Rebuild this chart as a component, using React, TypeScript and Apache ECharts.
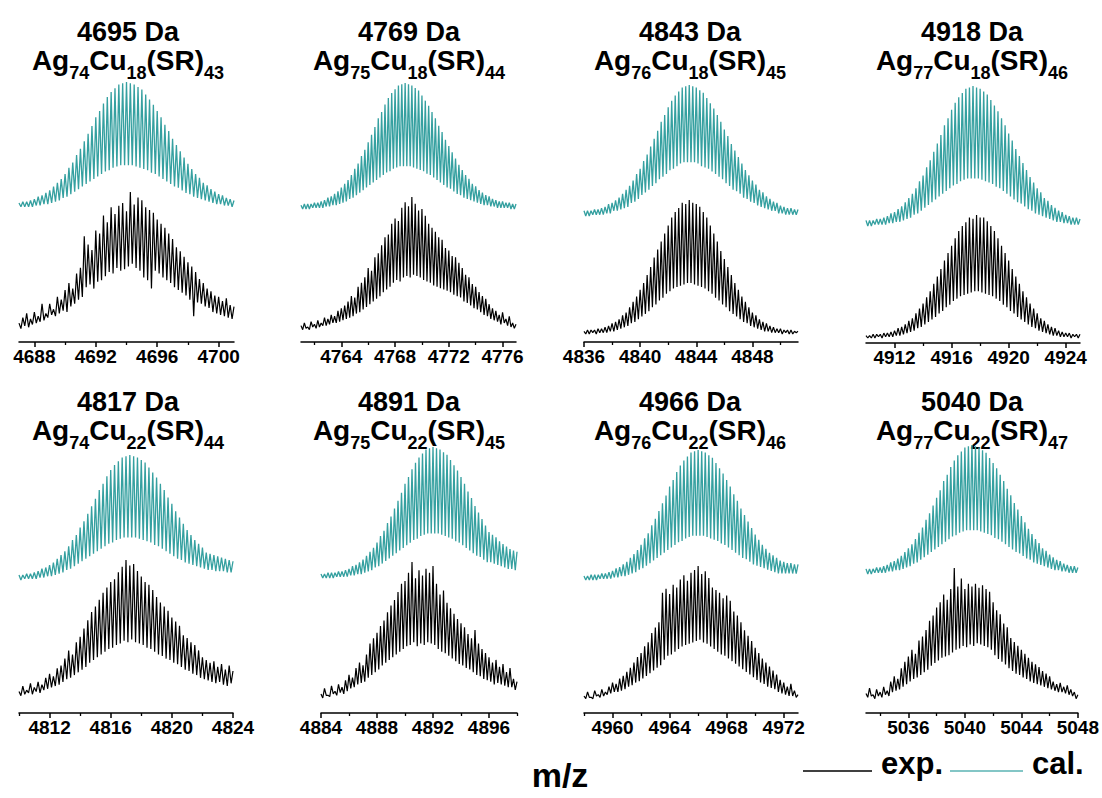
import React, { useEffect, useRef } from 'react';
import * as echarts from 'echarts';

// ---------- data ----------
const MASS_LABELS = ['4695 Da', '4769 Da', '4843 Da', '4918 Da', '4817 Da', '4891 Da', '4966 Da', '5040 Da'];
const AG_COUNT = [74, 75, 76, 77, 74, 75, 76, 77];
const CU_COUNT = [18, 18, 18, 18, 22, 22, 22, 22];
const SR_COUNT = [43, 44, 45, 46, 44, 45, 46, 47];

const X_MIN = [4687, 4761, 4836, 4910, 4810, 4884, 4958, 5033];
const X_MAX = [4701, 4777, 4851.25, 4925, 4824, 4898, 4973, 5048];
const MAJOR_TICKS = [
  [4688, 4692, 4696, 4700],
  [4764, 4768, 4772, 4776],
  [4836, 4840, 4844, 4848],
  [4912, 4916, 4920, 4924],
  [4812, 4816, 4820, 4824],
  [4884, 4888, 4892, 4896],
  [4960, 4964, 4968, 4972],
  [5036, 5040, 5044, 5048],
];
const MINOR_TICKS = [
  [4690, 4694, 4698],
  [4762, 4766, 4770, 4774],
  [4838, 4842, 4846, 4850],
  [4914, 4918, 4922],
  [4810, 4814, 4818, 4822],
  [4886, 4890, 4894, 4898],
  [4958, 4962, 4966, 4970],
  [5034, 5038, 5042, 5046],
];
// spacing (Da) between successive samples: isotope peak (0.25 Da, z = 4) and the valley between peaks
const STEP = 0.125;

// calculated isotope patterns (relative intensity, %)
const calP1 = [4,1,5,1,5,1,6,1,7,2,9,2,10,3,12,3,14,4,17,5,20,6,23,8,27,9,32,11,36,13,42,15,47,17,53,19,59,21,65,23,72,25,77,27,83,29,88,30,92,32,95,33,98,34,99,34,100,34,99,34,98,33,96,32,94,31,90,30,86,28,82,27,77,25,72,23,66,21,61,19,55,17,50,16,45,14,40,12,35,11,31,9,27,8,24,7,20,6,18,5,15,4,13,3,11,3,10,2,8,2,7,1,6];
const calP2 = [3,0,4,0,4,0,4,1,5,1,5,1,6,1,7,2,9,2,10,3,12,3,14,4,17,5,20,6,23,8,27,9,32,11,36,13,42,15,47,17,53,19,59,21,65,23,72,25,77,27,83,29,88,30,92,32,95,33,98,34,99,34,100,34,99,34,98,33,96,32,94,31,90,30,86,28,82,27,77,25,72,23,66,21,61,19,55,17,50,16,45,14,40,12,35,11,31,9,27,8,24,7,20,6,18,5,15,4,13,3,11,3,10,2,8,2,7,1,6,1,6,1,5,1,5,0,4,0,4];
const calP3 = [4,0,4,0,4,1,5,1,5,1,6,1,7,2,9,2,10,4,12,4,14,5,17,6,20,7,23,10,27,11,32,13,36,16,42,18,47,20,53,23,59,25,65,28,72,30,77,32,83,35,88,36,92,38,95,40,98,41,99,41,100,41,99,41,98,40,96,38,94,37,90,36,86,34,82,32,77,30,72,28,66,25,61,23,55,20,50,19,45,17,40,14,35,13,31,11,27,10,24,8,20,7,18,6,15,5,13,4,11,4,10,2,8,2,7,1,6,1,6,1,5,1,5];
const calP4 = [4,0,4,0,4,1,5,1,5,1,6,1,7,2,9,2,10,3,12,3,14,4,17,5,20,6,23,8,27,9,32,11,36,13,42,15,47,17,53,19,59,21,65,23,72,25,77,27,83,29,88,30,92,32,95,33,98,34,99,34,100,34,99,34,98,33,96,32,94,31,90,30,86,28,82,27,77,25,72,23,66,21,61,19,55,17,50,16,45,14,40,12,35,11,31,9,27,8,24,7,20,6,18,5,15,4,13,3,11,3,10,2,8,2,7,1,6,1,6,1,5];
const calP5 = [4,0,4,1,5,1,5,1,6,1,7,2,9,2,10,3,12,3,14,4,17,5,20,6,23,8,27,9,32,11,36,13,42,15,47,17,53,19,59,21,65,23,72,25,77,27,83,29,88,30,92,32,95,33,98,34,99,34,100,34,99,34,98,33,96,32,94,31,90,30,86,28,82,27,77,25,72,23,66,21,61,19,55,17,50,16,45,14,40,13,36,12,32,11,29,10,26,9,22,8,21,8,20,7,19,7,18,7,17,6,16,6,15];
const calP6 = [3,0,3,0,4,0,4,0,4,1,5,1,5,1,6,1,7,2,9,2,10,3,12,3,14,4,17,5,20,6,23,8,27,9,32,11,36,13,42,15,47,17,53,19,59,21,65,23,72,25,77,27,83,29,88,30,92,32,95,33,98,34,99,34,100,34,99,34,98,33,96,32,94,31,90,30,86,28,82,27,77,25,72,23,66,21,61,19,55,17,50,16,45,14,40,12,35,12,33,11,31,10,28,9,26,8,24,7,22,7,21,6,20];
const calP7 = [3,0,3,0,4,0,4,0,4,1,5,1,5,1,6,1,7,2,9,2,10,3,12,3,14,4,17,5,20,6,23,8,27,9,32,11,36,13,42,15,47,17,53,19,59,21,65,23,72,25,77,27,83,29,88,30,92,32,95,33,98,34,99,34,100,34,99,34,98,33,96,32,94,31,90,30,86,28,82,27,77,25,72,23,66,21,61,19,55,17,50,16,45,14,40,12,35,11,31,10,27,9,24,8,21,7,19,6,17,5,15,5,14,5,13,5,13,5,12,5,12];
const calP8 = [4,0,4,0,4,1,5,1,5,1,6,1,7,2,9,2,10,3,12,3,14,4,17,5,20,6,23,8,27,9,32,11,36,13,42,15,47,17,53,19,59,21,65,23,72,25,77,27,83,29,88,30,92,32,95,33,98,34,99,34,100,34,99,34,98,33,96,32,94,31,90,30,86,28,82,27,77,25,72,23,66,21,61,19,55,17,50,16,45,14,40,12,35,11,31,9,27,8,24,7,20,6,18,5,15,4,13,3,11,3,10,2,8,2,7,1,6,1,6,1,5];

// experimental spectra (relative intensity, %)
const expP1 = [5,1,9,3,12,2,8,4,13,5,10,6,19,7,12,9,19,11,15,10,24,12,22,14,29,13,34,17,30,19,41,22,45,24,68,31,62,33,58,30,72,35,70,36,83,39,78,42,89,41,84,45,90,43,92,44,86,46,100,48,91,45,96,43,94,38,89,36,87,30,85,43,80,41,77,38,74,36,70,34,66,31,60,29,57,27,53,25,49,22,46,10,42,20,37,19,34,17,30,16,28,13,25,12,24,11,21,10,23,9,18,8,17];
const expP2 = [4,1,6,2,3,1,7,3,5,2,8,3,6,4,10,4,9,5,12,6,11,6,15,7,17,8,19,9,22,10,26,11,25,13,33,14,36,16,40,18,47,20,45,22,55,24,58,26,64,29,70,31,72,33,80,36,84,38,82,37,92,40,96,41,93,40,100,42,95,41,90,40,91,38,86,37,80,36,77,34,74,33,70,32,68,31,62,30,60,29,56,27,55,26,51,25,47,22,42,21,40,19,35,17,33,16,29,14,26,12,24,11,20,9,17,8,15,7,12,5,14,6,9,4,11,3,6,2,5];
const expP3 = [2,0,3,0,3,1,3,0,4,1,4,1,5,1,6,2,8,2,9,3,11,4,14,5,16,6,20,8,24,9,28,11,33,13,38,15,44,17,50,20,57,22,63,25,69,27,75,30,81,32,87,34,91,35,94,36,98,37,97,38,100,38,98,37,97,36,95,35,91,34,87,32,81,30,75,27,69,25,62,22,56,20,50,17,44,15,38,13,33,11,28,9,24,8,20,6,16,5,14,4,11,3,9,2,8,2,6,1,5,1,4,1,4,0,3,1,3,0,3,0,2,1,2];
const expP4 = [2,0,2,0,3,0,3,1,3,0,4,1,4,1,5,1,6,2,8,2,9,3,11,4,14,5,16,6,20,8,24,9,28,11,33,13,38,15,44,17,50,20,56,22,63,25,69,27,75,30,81,32,87,34,91,35,94,36,98,37,97,38,100,38,98,37,98,36,95,35,91,34,87,32,81,30,75,27,69,25,63,22,56,20,50,17,44,15,38,13,33,11,28,9,24,8,20,6,16,5,14,4,11,3,9,2,8,2,6,1,5,1,4,1,4,0,3,1,3,0,3];
const expP5 = [4,1,8,2,5,3,10,2,7,4,11,3,9,5,14,6,17,7,15,8,21,9,23,11,28,13,34,14,31,16,40,18,44,20,50,22,56,25,62,27,66,29,71,31,76,33,80,35,84,36,86,38,91,39,95,41,100,40,96,42,97,40,92,39,88,38,84,36,82,35,78,33,73,31,69,30,66,28,63,27,58,25,55,24,52,22,45,20,43,19,40,17,38,16,34,14,29,13,27,12,25,11,26,10,22,11,24,9,20,8,23,10,19];
const expP6 = [3,0,7,2,2,1,9,3,5,2,10,4,8,3,13,5,17,7,15,8,22,10,26,11,24,12,32,15,40,17,44,19,48,21,53,24,57,26,63,28,68,30,72,32,78,34,84,36,86,38,92,39,100,41,88,38,94,40,90,39,95,41,92,40,97,39,84,36,76,34,79,33,70,31,66,29,62,27,58,25,55,24,52,22,47,21,44,19,50,17,40,16,36,14,33,13,30,12,26,10,28,11,23,10,25,9,19,8,22,8,14,6,12];
const expP7 = [3,1,6,2,2,1,7,3,4,2,8,3,6,4,10,5,13,6,12,6,16,7,18,8,21,10,24,11,28,13,32,14,35,16,40,18,43,20,50,22,54,24,58,26,80,30,83,33,79,34,86,36,84,38,90,40,93,41,89,42,95,43,97,44,100,45,94,43,96,42,91,40,84,38,82,36,80,34,76,33,78,31,74,29,66,27,63,25,58,23,52,21,48,19,44,17,39,15,35,13,31,12,28,10,25,9,22,8,19,6,15,5,13,4,10,3,12,3,7,2,4];
const expP8 = [5,2,9,3,4,1,8,3,6,2,10,4,7,3,14,6,18,7,16,8,24,10,29,12,33,14,38,16,35,17,45,19,48,21,53,23,60,26,64,28,70,30,74,32,80,33,76,34,84,36,100,38,86,39,92,41,84,40,88,42,86,41,88,43,85,42,87,41,84,40,82,38,74,34,68,31,65,29,58,27,55,24,47,22,44,20,41,19,38,17,35,16,32,14,29,13,27,12,25,11,22,10,20,9,18,8,14,7,12,6,13,6,10,5,11,4,8,3,6,1,4];

const CAL = [calP1, calP2, calP3, calP4, calP5, calP6, calP7, calP8];
const EXP = [expP1, expP2, expP3, expP4, expP5, expP6, expP7, expP8];

// ---------- layout (pixels) ----------
// l/r: plot left/right, ax: axis line y, cb/ct: y of cal 0 % / 100 %, eb/et: y of exp 0 % / 100 %
const LAYOUT = [
  { l: 19, r: 234, ax: 342, cb: 208, ct: 82, eb: 330, et: 192 },
  { l: 301, r: 516, ax: 342, cb: 209, ct: 83, eb: 331, et: 197 },
  { l: 584, r: 798, ax: 342, cb: 216, ct: 85, eb: 334, et: 200 },
  { l: 866, r: 1080, ax: 343, cb: 226, ct: 86, eb: 338, et: 215 },
  { l: 19, r: 233, ax: 713, cb: 580, ct: 455, eb: 697, et: 560 },
  { l: 321, r: 517, ax: 713, cb: 578, ct: 447, eb: 698, et: 562 },
  { l: 584, r: 798, ax: 713, cb: 580, ct: 450, eb: 700, et: 566 },
  { l: 866, r: 1080, ax: 713, cb: 574, ct: 445, eb: 700, et: 568 },
];
const TITLE_X = [128, 409, 690, 972];
const TITLE_Y = [32, 402];
const FF = 'Arial, "Liberation Sans", Helvetica, sans-serif';
const TEAL = '#35a0a0';

function toXY(arr: number[], x0: number) {
  return arr.map((v, j) => [x0 + j * STEP, v]);
}

export default function App() {
  const ref = useRef<HTMLDivElement>(null);

  useEffect(() => {
    if (!ref.current) return;
    const chart = echarts.init(ref.current, undefined, { renderer: 'svg', width: 1102, height: 798 });

    const grid: any[] = [];
    const xAxis: any[] = [];
    const yAxis: any[] = [];
    const series: any[] = [];
    const graphic: any[] = [];

    LAYOUT.forEach((L, i) => {
      const gTop = i < 4 ? 60 : 430;
      const gBot = L.ax;
      grid.push({ left: L.l, top: gTop, width: L.r - L.l, height: gBot - gTop, containLabel: false });

      xAxis.push({
        type: 'value', gridIndex: i, position: 'bottom', min: X_MIN[i], max: X_MAX[i],
        axisLine: { show: true, onZero: false, lineStyle: { color: '#000', width: 1.5 } },
        axisTick: { show: true, inside: false, length: 5, customValues: MAJOR_TICKS[i], lineStyle: { color: '#000', width: 1.5 } },
        axisLabel: {
          show: true, customValues: MAJOR_TICKS[i], margin: 5, color: '#000', fontSize: 19,
          fontWeight: 'bold', fontFamily: FF, showMinLabel: true, showMaxLabel: true,
          formatter: (v: number) => String(v),
        },
        splitLine: { show: false },
      });
      xAxis.push({
        type: 'value', gridIndex: i, position: 'bottom', min: X_MIN[i], max: X_MAX[i],
        axisLine: { show: false, onZero: false },
        axisTick: { show: true, inside: false, length: 3, customValues: MINOR_TICKS[i], lineStyle: { color: '#000', width: 1.3 } },
        axisLabel: { show: false },
        splitLine: { show: false },
      });

      const sc = (L.cb - L.ct) / 100;
      yAxis.push({ type: 'value', gridIndex: i, show: false, min: -(gBot - L.cb) / sc, max: (L.cb - gTop) / sc, splitLine: { show: false } });
      const se = (L.eb - L.et) / 100;
      yAxis.push({ type: 'value', gridIndex: i, show: false, min: -(gBot - L.eb) / se, max: (L.eb - gTop) / se, splitLine: { show: false } });

      series.push({
        type: 'line', name: 'cal.', xAxisIndex: 2 * i, yAxisIndex: 2 * i,
        data: toXY(CAL[i], X_MIN[i]), showSymbol: false, symbol: 'none', silent: true,
        lineStyle: { color: TEAL, width: 1.3 }, itemStyle: { color: TEAL },
      });
      series.push({
        type: 'line', name: 'exp.', xAxisIndex: 2 * i, yAxisIndex: 2 * i + 1,
        data: toXY(EXP[i], X_MIN[i]), showSymbol: false, symbol: 'none', silent: true,
        lineStyle: { color: '#000', width: 1.2 }, itemStyle: { color: '#000' },
      });

      const tx = TITLE_X[i % 4];
      const ty = TITLE_Y[i < 4 ? 0 : 1];
      graphic.push({
        type: 'text', x: tx, y: ty,
        style: {
          text: MASS_LABELS[i], font: `bold 27px ${FF}`, fill: '#000',
          align: 'center', verticalAlign: 'middle', textAlign: 'center', textVerticalAlign: 'middle',
        },
      });
      graphic.push({
        type: 'text', x: tx, y: ty + 40.5,
        style: {
          text: `{m|Ag}{s|${AG_COUNT[i]}}{m|Cu}{s|${CU_COUNT[i]}}{m|(SR)}{s|${SR_COUNT[i]}}`,
          fill: '#000', align: 'center', verticalAlign: 'middle', textAlign: 'center', textVerticalAlign: 'middle',
          rich: {
            m: { fontSize: 28, fontWeight: 'bold', fontFamily: FF, fill: '#000', lineHeight: 26, verticalAlign: 'top' },
            s: { fontSize: 18, fontWeight: 'bold', fontFamily: FF, fill: '#000', lineHeight: 53, verticalAlign: 'middle' },
          },
        },
      });
    });

    graphic.push({
      type: 'text', x: 560, y: 775,
      style: { text: 'm/z', font: `bold 34px ${FF}`, fill: '#000', align: 'center', verticalAlign: 'middle', textAlign: 'center', textVerticalAlign: 'middle' },
    });
    graphic.push({ type: 'line', shape: { x1: 803, y1: 771, x2: 872, y2: 771 }, style: { stroke: '#000', lineWidth: 1.5 } });
    graphic.push({
      type: 'text', x: 881, y: 763,
      style: { text: 'exp.', font: `bold 31px ${FF}`, fill: '#000', align: 'left', verticalAlign: 'middle', textAlign: 'left', textVerticalAlign: 'middle' },
    });
    graphic.push({ type: 'line', shape: { x1: 950, y1: 771, x2: 1023, y2: 771 }, style: { stroke: '#5ab3b3', lineWidth: 1.5 } });
    graphic.push({
      type: 'text', x: 1032, y: 763,
      style: { text: 'cal.', font: `bold 31px ${FF}`, fill: '#000', align: 'left', verticalAlign: 'middle', textAlign: 'left', textVerticalAlign: 'middle' },
    });

    chart.setOption({
      animation: false,
      backgroundColor: '#ffffff',
      grid, xAxis, yAxis, series, graphic,
    });

    return () => chart.dispose();
  }, []);

  return <div ref={ref} style={{ position: 'absolute', left: 0, top: 0, width: 1102, height: 798, background: '#fff' }} />;
}
